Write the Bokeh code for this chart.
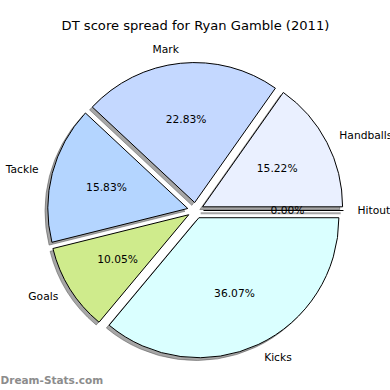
import math
from bokeh.plotting import figure
from bokeh.models import ColumnDataSource, Label
from bokeh.core.properties import value
from bokeh.embed import file_html
from bokeh.resources import INLINE

title = "DT score spread for Ryan Gamble (2011)"
categories = ["Handballs", "Mark", "Tackle", "Goals", "Kicks", "Hitout"]
percents = [15.22, 22.83, 15.83, 10.05, 36.07, 0.00]
colors = ["#EAF0FF", "#C4D8FF", "#B4D5FF", "#CFEB8C", "#DAFFFF", "#FFFFFF"]
explode = 0.057
watermark = "Dream-Stats.com"

# geometry (pixels per unit radius and reference centre)
S = 140.0
W = H = 390
cx_ref, cy_ref = 195.0, 210.0
x0 = (0 - cx_ref) / S
x1 = x0 + W / S
y1 = (cy_ref - 0) / S
y0 = y1 - H / S

p = figure(width=W, height=H, x_range=(x0, x1), y_range=(y0, y1),
           output_backend="svg", toolbar_location=None, min_border=0,
           outline_line_color=None)
p.axis.visible = False
p.grid.visible = False
p.background_fill_color = "white"

total = sum(percents)
starts, ends, cxs, cys, mids = [], [], [], [], []
acc = 0.0
for v in percents:
    a0 = 2 * math.pi * acc / total
    acc += v
    a1 = 2 * math.pi * acc / total
    m = (a0 + a1) / 2
    starts.append(a0); ends.append(a1); mids.append(m)
    cxs.append(explode * math.cos(m)); cys.append(explode * math.sin(m))

nz = [i for i, v in enumerate(percents) if v > 0]
z = [i for i, v in enumerate(percents) if v == 0]

sh = 0.02
shadow_src = ColumnDataSource(dict(
    x=[cxs[i] - sh for i in nz], y=[cys[i] - sh for i in nz],
    s=[starts[i] for i in nz], e=[ends[i] for i in nz]))
p.wedge(x="x", y="y", radius=1.0, start_angle="s", end_angle="e",
        source=shadow_src, fill_color="#4d4d4d", fill_alpha=0.5,
        line_color="#4d4d4d", line_alpha=0.5, line_width=1)

src = ColumnDataSource(dict(
    x=[cxs[i] for i in nz], y=[cys[i] for i in nz],
    s=[starts[i] for i in nz], e=[ends[i] for i in nz],
    c=[colors[i] for i in nz]))
p.wedge(x="x", y="y", radius=1.0, start_angle="s", end_angle="e",
        source=src, fill_color="c", line_color="black", line_width=1)

# zero-size slices drawn as lines
for i in z:
    a = starts[i]
    p.segment(x0=[cxs[i] - sh], y0=[cys[i] - sh],
              x1=[cxs[i] - sh + math.cos(a)], y1=[cys[i] - sh + math.sin(a)],
              line_color="#4d4d4d", line_alpha=0.5, line_width=2)
    p.segment(x0=[cxs[i]], y0=[cys[i]],
              x1=[cxs[i] + math.cos(a)], y1=[cys[i] + math.sin(a)],
              line_color="black", line_width=1)

# percentage labels
pct_src = ColumnDataSource(dict(
    x=[cxs[i] + 0.6 * math.cos(mids[i]) for i in range(len(percents))],
    y=[cys[i] + 0.6 * math.sin(mids[i]) for i in range(len(percents))],
    t=["%.2f%%" % v for v in percents]))
p.text(x="x", y="y", text="t", source=pct_src, text_align="center",
       text_baseline="middle", text_font=value("DejaVu Sans"),
       text_font_size="10.7px", text_color="black")

# category labels
lx, ly, la = [], [], []
for i in range(len(percents)):
    x = cxs[i] + 1.1 * math.cos(mids[i])
    y = cys[i] + 1.1 * math.sin(mids[i])
    lx.append(x); ly.append(y)
    la.append("left" if x > 0 else "right")
lab_src = ColumnDataSource(dict(x=lx, y=ly, t=categories, a=la))
p.text(x="x", y="y", text="t", source=lab_src, text_align="a",
       text_baseline="middle", text_font=value("DejaVu Sans"),
       text_font_size="10.7px", text_color="black")

p.add_layout(Label(x=W / 2, y=H - 25, x_units="screen", y_units="screen",
                   text=title, text_align="center", text_baseline="middle",
                   text_font="DejaVu Sans", text_font_size="13.1px",
                   text_color="black"))
p.add_layout(Label(x=0, y=H - 379, x_units="screen", y_units="screen",
                   text=watermark, text_align="left", text_baseline="middle",
                   text_font="DejaVu Sans", text_font_size="10.5px",
                   text_font_style="bold", text_color="#8c8c8c"))

open("out.html", "w").write(file_html(p, INLINE))
